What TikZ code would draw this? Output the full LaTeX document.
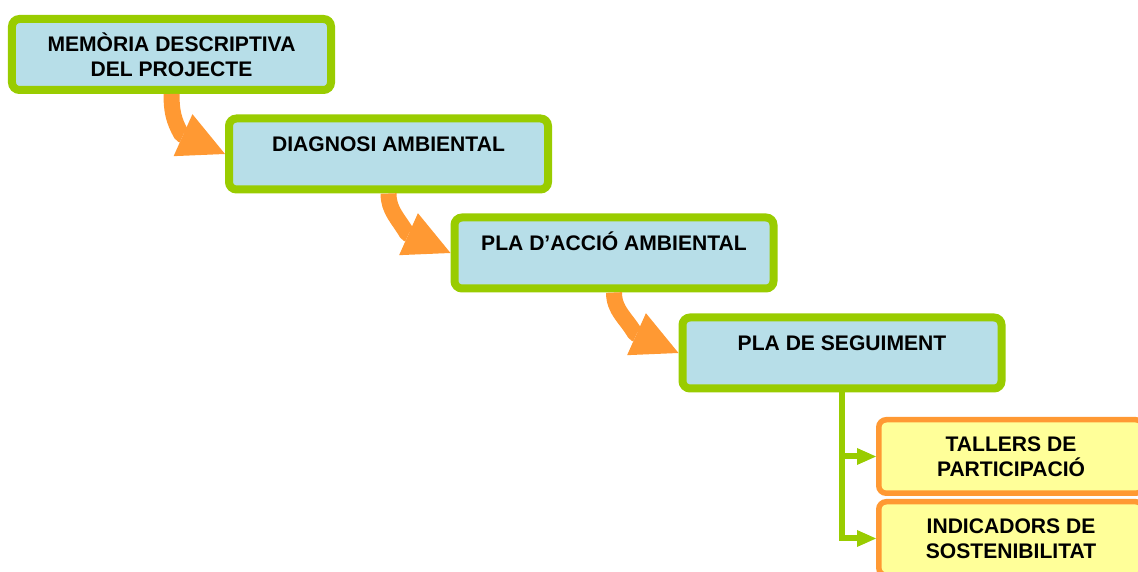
\documentclass[tikz,border=0pt]{standalone}
\usepackage{fontspec}
\setmainfont{Liberation Sans}
\usepackage{xcolor}
\usetikzlibrary{arrows.meta,calc}

\definecolor{stepgreen}{HTML}{99CC00}
\definecolor{stepblue}{HTML}{B7DEE8}
\definecolor{steporange}{HTML}{FF9933}
\definecolor{stepyellow}{HTML}{FFFF99}

\begin{document}
\begin{tikzpicture}[
  phase/.style={draw=stepgreen, fill=stepblue, line width=0.16cm, rounded corners=0.15cm,
    minimum width=6.38cm, minimum height=1.42cm, inner sep=0pt, align=center,
    font=\bfseries\fontsize{12}{14.2}\selectfont},
  onerow/.style={text height=8.6pt, text depth=11.4pt},
  task/.style={draw=steporange, fill=stepyellow, line width=0.11cm, rounded corners=0.15cm,
    minimum width=5.29cm, minimum height=1.47cm, inner sep=0pt, align=center,
    font=\bfseries\fontsize{12}{14.2}\selectfont},
  flow/.style={steporange, line width=0.32cm, line join=round,
    -{Triangle[length=0.92cm, width=0.92cm, line width=0pt]}},
  link/.style={stepgreen, line width=0.12cm,
    -{Triangle[length=0.38cm, width=0.34cm, line width=0pt]}}
]
  % page size of the reference
  \useasboundingbox (0,0) rectangle (22.76,11.44);
  \clip (0,0) rectangle (22.76,11.44);

  % the four phases, stepping down to the right
  \node[phase] (memoria) at (3.43,10.35) {MEMÒRIA DESCRIPTIVA\\DEL PROJECTE};
  \node[phase, onerow] (diagnosi) at (7.77,8.36) {DIAGNOSI AMBIENTAL};
  \node[phase, onerow] (accio) at (12.28,6.38) {PLA D’ACCIÓ AMBIENTAL};
  \node[phase, onerow] (seguiment) at (16.84,4.38) {PLA DE SEGUIMENT};

  % follow-up tasks
  \node[task] (tallers) at (20.22,2.31) {TALLERS DE\\PARTICIPACIÓ};
  \node[task] (indicadors) at (20.22,0.67) {INDICADORS DE\\SOSTENIBILITAT};

  % orange bent arrows between phases
  \foreach \from/\to in {memoria/diagnosi, diagnosi/accio, accio/seguiment} {
    \draw[flow] (\from.south) to[out=-90, in=120] ($(\to.west)+(-0.87,0.39)$) -- (\to.west);
  }

  % green branches
  \draw[link] (seguiment.south) |- (tallers.west);
  \draw[link] (seguiment.south) |- (indicadors.west);
\end{tikzpicture}
\end{document}
